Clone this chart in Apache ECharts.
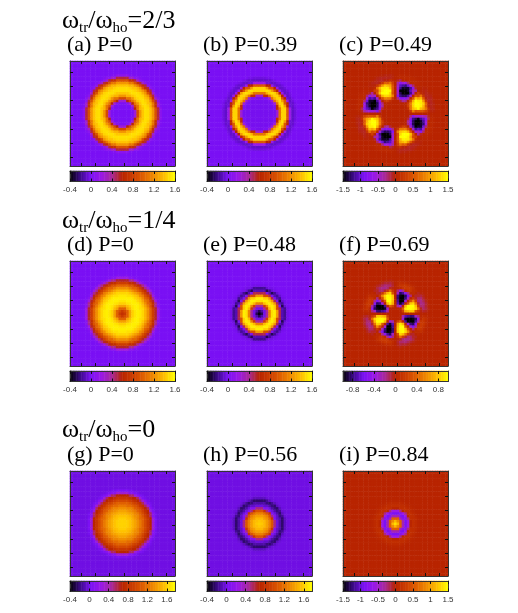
<!DOCTYPE html>
<html><head><meta charset="utf-8">
<style>html,body{margin:0;padding:0;background:#fff}#c{width:518px;height:613px}</style>
<script src="https://cdn.jsdelivr.net/npm/echarts@6/dist/echarts.min.js"></script>
</head><body><div id="c"></div>
<script>
// Radial profiles: one value every half cell from the centre; 0 beyond the end.
const profileA=[0,0,0,0,0,0,0,0,.01,.05,.25,.58,.88,1.08,1.24,1.35,1.42,1.47,1.5,1.5,1.49,1.46,1.41,1.35,1.24,1.1,.92,.72,.52,.28,.1,.03];
const profileB=[-.01,-.01,-.01,-.01,-.01,-.01,-.01,-.01,-.01,-.01,-.01,-.01,-.01,.02,.26,.68,1.08,1.35,1.46,1.5,1.46,1.27,.95,.6,.2,-.05,-.08,-.07,-.04,-.02];
const profileC=[0,0,0,0,0,0,0,0,0,0,0,.1,.3,.7,1,1.2,1.32,1.42,1.48,1.5,1.48,1.42,1.3,1.15,.9,.55,.2,-.02,-.06,-.06,-.05,-.03,-.01];
const profileD=[.7,.72,.78,.88,1,1.15,1.28,1.38,1.45,1.5,1.52,1.55,1.55,1.55,1.53,1.5,1.47,1.42,1.36,1.29,1.21,1.12,1.02,.92,.8,.68,.55,.42,.22,.08,.02];
const profileE=[-.38,-.36,-.28,-.15,-.02,.12,.4,.8,1.15,1.38,1.5,1.55,1.55,1.45,1.25,.9,.5,.02,-.12,-.28,-.18,-.06,-.02,-.01];
const profileF=[0,0,0,0,0,.03,.2,.45,.7,.85,.95,1,1.02,1.02,1,.95,.85,.7,.45,.18,-.05,-.14,-.16,-.14,-.1,-.06,-.03,-.01];
const profileG=[1.62,1.62,1.62,1.61,1.6,1.58,1.56,1.54,1.5,1.47,1.43,1.39,1.35,1.3,1.24,1.18,1.12,1.05,.98,.92,.85,.78,.7,.55,.3,.12,.05,.02];
const profileH=[1.6,1.6,1.58,1.55,1.52,1.47,1.42,1.36,1.28,1.18,1.05,.85,.5,.1,-.01,-.05,-.12,-.2,-.23,-.16,-.07,-.02,-.01];
const profileI=[1.35,1.3,1.15,.9,.6,.15,-.4,-.8,-.88,-.8,-.6,-.25,.02,.12,.13,.11,.08,.04,.02];
// Angular weight of a lobe, every 5 degrees across a 45 degree sector (the sign flips in the next sector).
const sectorC=[0,.35,.8,1,1.08,1.08,1,.8,.35,0];
const sectorF=[0,.35,.8,1,1.08,1.08,1,.8,.35,0];
// Panel titles, tick labels
const headings=['2/3','1/4','0'];
const panelLabels=['(a) P=0','(b) P=0.39','(c) P=0.49','(d) P=0','(e) P=0.48','(f) P=0.69','(g) P=0','(h) P=0.56','(i) P=0.84'];
const ticksPos=[-0.4,0,0.4,0.8,1.2,1.6];
const ticksC=[-1.5,-1,-0.5,0,0.5,1,1.5];
const ticksF=[-0.8,-0.4,0,0.4,0.8];
const rangesPos=[-0.4,1.6], rangeTall=[-0.4,1.77], rangeC=[-1.5,1.5], rangeF=[-0.98,0.98];
const frameTicks=[-3,-2,-1,0,1,2,3];
const palette=['#000000','#3c0a88','#7a10f4','#9a18e8','#a8289a','#b82400','#cc3c00','#e06000','#f08c00','#ffc000','#ffff00'];

const panels=[
 {p:profileA,r:rangesPos,t:ticksPos},{p:profileB,r:rangesPos,t:ticksPos},{p:profileC,s:sectorC,r:rangeC,t:ticksC},
 {p:profileD,r:rangesPos,t:ticksPos},{p:profileE,r:rangesPos,t:ticksPos},{p:profileF,s:sectorF,r:rangeF,t:ticksF},
 {p:profileG,r:rangeTall,t:ticksPos},{p:profileH,r:rangeTall,t:ticksPos},{p:profileI,r:rangeC,t:ticksC}];
const colX=[70,207,343], rowY=[61,261,471], barGap=5;
const N=41, W=105, BARH=10.5, STEPS=64;
const cats=Array.from({length:N},(_,i)=>i);
const barCats=Array.from({length:STEPS},(_,i)=>i);

function cells(pn){
  const out=[],c=(N-1)/2;
  for(let y=0;y<N;y++)for(let x=0;x<N;x++){
    const dx=x-c,dy=y-c,i=Math.round(2*Math.hypot(dx,dy));
    let v=i<pn.p.length?pn.p[i]:0;
    if(pn.s){
      const a=(Math.atan2(dy,dx)*180/Math.PI+360)%90;
      const f=a<45?1:-1;
      v*=f*pn.s[Math.min(9,Math.round((a%45)/5))];
    }
    out.push([x,y,Math.max(pn.r[0],Math.min(pn.r[1],v))]);
  }
  return out;
}
const lineStyle={color:'#333',width:1};
function frameAxis(grid,pos,min,max,ticks,label){
  return {type:'value',gridIndex:grid,position:pos,min,max,z:6,splitLine:{show:false},
    axisLine:{show:true,onZero:false,lineStyle},
    axisTick:{show:!!ticks,inside:true,length:3,lineStyle:{color:'#111',width:1},customValues:ticks||undefined},
    axisLabel:label?{show:true,customValues:ticks,formatter:v=>String(v),fontFamily:'Liberation Sans',fontSize:8,color:'#333',margin:4}:{show:false}};
}
const grid=[],xAxis=[],yAxis=[],series=[],visualMap=[],title=[];
panels.forEach((pn,k)=>{
  const left=colX[k%3], top=rowY[Math.floor(k/3)];
  grid.push({left,top,width:W,height:W});
  const gi=k*2;
  xAxis.push({type:'category',gridIndex:gi,data:cats,show:false});
  yAxis.push({type:'category',gridIndex:gi,data:cats,show:false});
  const xi=xAxis.length-1, yi=yAxis.length-1;
  xAxis.push(frameAxis(gi,'bottom',-3.8,3.6,frameTicks),frameAxis(gi,'top',-3.8,3.6,frameTicks));
  yAxis.push(frameAxis(gi,'left',-3.6,3.8,frameTicks),frameAxis(gi,'right',-3.6,3.8,frameTicks));
  series.push({type:'heatmap',xAxisIndex:xi,yAxisIndex:yi,data:cells(pn),progressive:0,animation:false,silent:true,emphasis:{disabled:true}});
  const sIdx=series.length-1;

  grid.push({left,top:top+W+barGap,width:W,height:BARH});
  xAxis.push({type:'category',gridIndex:gi+1,data:barCats,show:false});
  yAxis.push({type:'category',gridIndex:gi+1,data:[0],show:false});
  const bx=xAxis.length-1, by=yAxis.length-1;
  xAxis.push(frameAxis(gi+1,'bottom',pn.r[0],pn.r[1],pn.t,true),frameAxis(gi+1,'top',pn.r[0],pn.r[1],pn.t));
  yAxis.push(frameAxis(gi+1,'left',0,1),frameAxis(gi+1,'right',0,1));
  series.push({type:'heatmap',xAxisIndex:bx,yAxisIndex:by,
    data:barCats.map(i=>[i,0,pn.r[0]+(pn.r[1]-pn.r[0])*(i+.5)/STEPS]),progressive:0,animation:false,silent:true,emphasis:{disabled:true}});
  visualMap.push({type:'continuous',show:false,dimension:2,min:pn.r[0],max:pn.r[1],seriesIndex:[sIdx,sIdx+1],inRange:{color:palette}});
  title.push({text:panelLabels[k],left:left-3-(k%3==0?0:1),top:top-27,padding:0,textStyle:{fontFamily:'Liberation Serif',fontSize:22,fontWeight:'normal',color:'#000'}});
});
const headY=[8,208,417];
headings.forEach((h,i)=>title.push({text:`{m|ω}{s|tr}{m|/ω}{s|ho}{m|=${h}}`,left:62,top:headY[i],padding:0,
  textStyle:{fontWeight:'normal',rich:{m:{fontFamily:'Liberation Serif',fontSize:26,fontWeight:'normal',color:'#000'},s:{fontFamily:'Liberation Serif',fontSize:15,fontWeight:'normal',color:'#000',verticalAlign:'bottom',padding:[0,0,-2,0]}}}}));
echarts.init(document.getElementById('c'),null,{renderer:'canvas'}).setOption({animation:false,backgroundColor:'#fff',title,grid,xAxis,yAxis,series,visualMap});
</script></body></html>
